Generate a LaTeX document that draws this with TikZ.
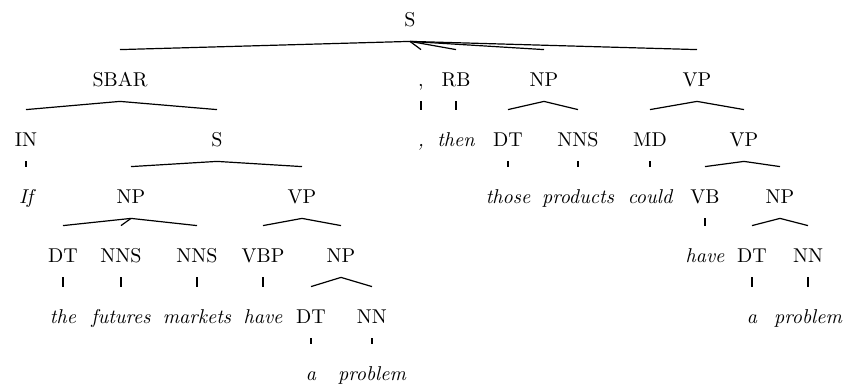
\documentclass[tikz,border=0pt]{standalone}
\usepackage{tikz}
\usetikzlibrary{positioning}
\tikzset{
    cat/.style={
        inner xsep=1pt,
        inner ysep=0pt,
        text height=18.5pt,
        text depth=7pt,
        anchor=base
    },
    word/.style={
        cat,
        font=\itshape
    },
    branch/.style={
        draw=black,
        line width=0.6pt
    }
}

\begin{document}
\begin{tikzpicture}[x=0.5pt, y=-0.5pt]
            \useasboundingbox (0,0) rectangle (843,390);

            % Root
            \node (s0) [cat] at (410,27) {S};

            % Row 1
            \node (sbar) [cat] at (120,87) {SBAR};
            \node (comma) [cat] at (421,87) {,};
            \node (rb) [cat] at (456,87) {RB};
            \node (np1) [cat] at (544,87) {NP};
            \node (vp1) [cat] at (697,87) {VP};

            % Row 2
            \node (in) [cat] at (26,147) {IN};
            \node (s1) [cat] at (217,147) {S};
            \node (commaw) [word] at (421,147) {,};
            \node (then) [word] at (456,147) {then};
            \node (dt1) [cat] at (508,147) {DT};
            \node (nns1) [cat] at (578,147) {NNS};
            \node (md) [cat] at (650,147) {MD};
            \node (vp2) [cat] at (744,147) {VP};

            % Row 3
            \node (if) [word] at (26,204) {If};
            \node (np2) [cat] at (131,204) {NP};
            \node (vp3) [cat] at (302,204) {VP};
            \node (those) [word] at (508,204) {those};
            \node (products) [word] at (578,204) {products};
            \node (could) [word] at (650,204) {could};
            \node (vb) [cat] at (705,204) {VB};
            \node (np3) [cat] at (780,204) {NP};

            % Row 4
            \node (dt2) [cat] at (63,263) {DT};
            \node (nns2) [cat] at (121,263) {NNS};
            \node (nns3) [cat] at (197,263) {NNS};
            \node (vbp) [cat] at (263,263) {VBP};
            \node (np4) [cat] at (341,263) {NP};
            \node (have2) [word] at (705,263) {have};
            \node (dt3) [cat] at (752,263) {DT};
            \node (nn3) [cat] at (808,263) {NN};

            % Row 5
            \node (the) [word] at (63,324) {the};
            \node (futures) [word] at (121,324) {futures};
            \node (markets) [word] at (197,324) {markets};
            \node (have1) [word] at (263,324) {have};
            \node (dt4) [cat] at (311,324) {DT};
            \node (nn4) [cat] at (372,324) {NN};
            \node (a2) [word] at (752,324) {a};
            \node (problem2) [word] at (808,324) {problem};

            % Row 6
            \node (a1) [word] at (311,381) {a};
            \node (problem1) [word] at (372,381) {problem};

            % Branches
            \path [branch]
                % Out of the root
                (s0.south) edge (sbar.north)
                (s0.south) edge (comma.north)
                (s0.south) edge (rb.north)
                (s0.south) edge (np1.north)
                (s0.south) edge (vp1.north)

                % Left clause
                (sbar.south) edge (in.north)
                (sbar.south) edge (s1.north)
                (in.south) edge (if.north)
                (s1.south) edge (np2.north)
                (s1.south) edge (vp3.north)
                (np2.south) edge (dt2.north)
                (np2.south) edge (nns2.north)
                (np2.south) edge (nns3.north)
                (dt2.south) edge (the.north)
                (nns2.south) edge (futures.north)
                (nns3.south) edge (markets.north)
                (vp3.south) edge (vbp.north)
                (vp3.south) edge (np4.north)
                (vbp.south) edge (have1.north)
                (np4.south) edge (dt4.north)
                (np4.south) edge (nn4.north)
                (dt4.south) edge (a1.north)
                (nn4.south) edge (problem1.north)

                % Comma and adverb
                (comma.south) edge (commaw.north)
                (rb.south) edge (then.north)

                % Subject
                (np1.south) edge (dt1.north)
                (np1.south) edge (nns1.north)
                (dt1.south) edge (those.north)
                (nns1.south) edge (products.north)

                % Main VP
                (vp1.south) edge (md.north)
                (vp1.south) edge (vp2.north)
                (md.south) edge (could.north)
                (vp2.south) edge (vb.north)
                (vp2.south) edge (np3.north)
                (vb.south) edge (have2.north)
                (np3.south) edge (dt3.north)
                (np3.south) edge (nn3.north)
                (dt3.south) edge (a2.north)
                (nn3.south) edge (problem2.north)
            ;
\end{tikzpicture}
\end{document}
